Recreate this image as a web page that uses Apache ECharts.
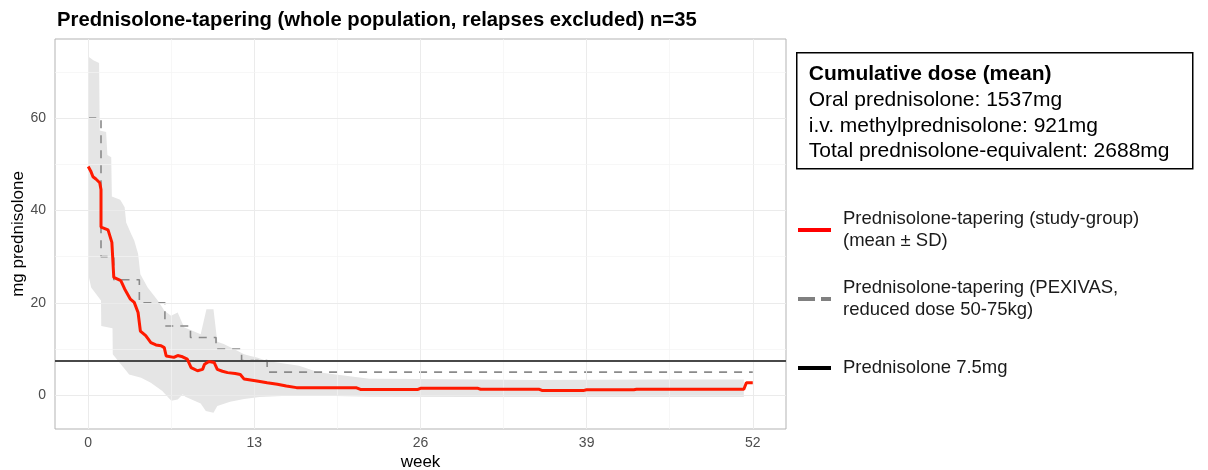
<!DOCTYPE html>
<html>
<head>
<meta charset="utf-8">
<script src="https://cdn.jsdelivr.net/npm/echarts@6/dist/echarts.min.js"></script>
<style>
  html, body { margin: 0; padding: 0; background: #fff; }
  #grafico { width: 1208px; height: 470px; }
</style>
</head>
<body>
<div id="grafico"></div>
<script>
// axis ticks / gridlines
var xTicks = [0, 13, 26, 39, 52];
var xMinor = [6.5, 19.5, 32.5, 45.5];
var yTicks = [0, 20, 40, 60];
var yMinor = [10, 30, 50, 70];

// study group mean (weeks, mg)
var meanWeeks = [0, 0.2, 0.37, 0.6, 0.9, 1.0, 1.0, 1.55, 1.85, 2.0, 2.55, 2.85, 3.3, 3.6, 3.9, 4.08, 4.5, 4.9, 5.3, 5.7, 5.95, 6.1,
  6.7, 7.0, 7.3, 7.75, 8.05, 8.55, 8.95, 9.1, 9.45, 9.85, 10.1, 10.5, 10.9, 11.5, 11.9, 12.2, 13.2, 14.0, 14.8, 15.5, 16.3,
  21.0, 21.3, 25.8, 26.0, 30.5, 30.7, 35.3, 35.5, 38.8, 39.0, 42.7, 42.9, 51.3, 51.5, 52.0];
var meanVals = [49.5, 48.5, 47.3, 46.8, 46.0, 44.5, 36.4, 35.8, 33.1, 25.5, 24.8, 23.0, 20.8, 20.1, 17.9, 13.9, 12.9, 11.4, 10.9, 10.7, 10.3, 8.5,
  8.2, 8.6, 8.4, 7.8, 6.0, 5.3, 5.6, 6.7, 7.3, 7.1, 5.6, 5.2, 4.9, 4.7, 4.5, 3.5, 3.1, 2.7, 2.4, 2.0, 1.65,
  1.6, 1.25, 1.25, 1.5, 1.5, 1.3, 1.3, 1.05, 1.05, 1.2, 1.2, 1.3, 1.3, 2.7, 2.7];

// SD band edges
var upperWeeks = [0, 0.4, 0.85, 0.9, 1.4, 1.5, 1.8, 1.85, 2.5, 2.85, 2.97, 3.36, 3.6, 3.9, 4.08, 4.65, 5.44, 5.96, 6.48, 7.0, 7.5,
  8.8, 9.25, 9.8, 10.1, 10.6, 11.4, 12.2, 12.7, 13.2, 14.0, 14.8, 16.5, 18, 22, 26, 35, 45, 51.3];
var upperVals = [73.3, 72.5, 71.9, 57.3, 57.0, 52.0, 51.5, 43.0, 42.3, 40.7, 37.4, 34.9, 33.5, 30.6, 26.2, 23.3, 20.5, 18.3, 17.2, 17.9, 14.7,
  13.2, 18.6, 18.6, 11.6, 11.1, 10.0, 8.9, 8.5, 8.2, 7.4, 7.1, 6.4, 5.0, 3.6, 3.5, 3.3, 3.4, 3.4];
var lowerWeeks = [0, 0.23, 1.0, 1.02, 1.9, 1.92, 2.97, 3.2, 4.14, 4.9, 5.8, 6.5, 7.0, 7.4, 7.6, 8.8, 9.2, 9.8, 10.1, 11.1, 12.2,
  13.4, 16.5, 22, 30, 40, 51.3];
var lowerVals = [26.2, 23.3, 20.5, 15.0, 14.5, 8.9, 5.3, 4.5, 3.8, 2.7, 0.9, -1.2, -0.9, 0.2, -0.3, -1.8, -3.4, -3.8, -2.3, -1.4, -0.8,
  -0.4, 0.0, -0.3, -0.4, -0.4, -0.4];

// PEXIVAS reduced dose schedule
var pexWeeks = [0, 1, 2, 4, 6, 8, 10, 12, 14, 52];
var pexVals = [60, 30, 25, 20, 15, 12.5, 10, 7.5, 5, 5];

var refDose = 7.5;

var font = "'Liberation Sans', Arial, sans-serif";

function pairs(xs, ys) {
  return xs.map(function (x, i) { return [x, ys[i]]; });
}

var gridLines = [];
xTicks.forEach(function (v) { gridLines.push({ xAxis: v, lineStyle: { color: '#ebebeb', width: 1, type: 'solid' } }); });
xMinor.forEach(function (v) { gridLines.push({ xAxis: v, lineStyle: { color: '#f4f4f4', width: 0.7, type: 'solid' } }); });
yTicks.forEach(function (v) { gridLines.push({ yAxis: v, lineStyle: { color: '#ebebeb', width: 1, type: 'solid' } }); });
yMinor.forEach(function (v) { gridLines.push({ yAxis: v, lineStyle: { color: '#f4f4f4', width: 0.7, type: 'solid' } }); });

var names = {
  study: 'Prednisolone-tapering (study-group)\n(mean \u00b1 SD)',
  pex: 'Prednisolone-tapering (PEXIVAS,\nreduced dose 50-75kg)',
  ref: 'Prednisolone 7.5mg'
};

function legendFor(key, top, lineStyle) {
  return {
    data: [key],
    orient: 'vertical',
    left: 796,
    top: top,
    padding: 0,
    itemWidth: 33,
    itemHeight: 14,
    selectedMode: false,
    lineStyle: lineStyle,
    itemStyle: { opacity: 0 },
    formatter: function (n) { return names[n]; },
    textStyle: { fontFamily: font, fontSize: 18.5, lineHeight: 22, color: '#1a1a1a', padding: [0, 0, 0, 7] }
  };
}

var chartDom = document.getElementById('grafico');
var myChart = echarts.init(chartDom);
var option = {
  animation: false,
  backgroundColor: '#fff',
  textStyle: { fontFamily: font },
  title: {
    text: 'Prednisolone-tapering (whole population, relapses excluded) n=35',
    left: 52,
    top: 5,
    textStyle: { fontFamily: font, fontSize: 20.25, fontWeight: 'bold', color: '#000' }
  },
  legend: [
    legendFor('study', 208, { color: '#ff0000', width: 4, type: 'solid' }),
    legendFor('pex', 277, { color: '#808080', width: 4, type: [17, 6] }),
    legendFor('ref', 357, { color: '#000', width: 4, type: 'solid' })
  ],
  grid: {
    left: 55, top: 39, width: 731, height: 390,
    outerBoundsMode: 'none',
    show: true, borderColor: '#b3b3b3', borderWidth: 1, backgroundColor: 'transparent'
  },
  xAxis: {
    type: 'value', min: -2.6, max: 54.6,
    name: 'week', nameLocation: 'middle', nameGap: 25, nameMoveOverlap: false,
    nameTextStyle: { fontFamily: font, fontSize: 17, color: '#000', verticalAlign: 'top' },
    axisLine: { show: false },
    axisTick: { show: true, customValues: xTicks, length: 3, lineStyle: { color: '#b3b3b3' } },
    axisLabel: { customValues: xTicks, color: '#4d4d4d', fontSize: 14, margin: 7, fontFamily: font },
    splitLine: { show: false }
  },
  yAxis: {
    type: 'value', min: -7.3, max: 77.1,
    name: 'mg prednisolone', nameLocation: 'middle', nameGap: 28, nameRotate: 90, nameMoveOverlap: false,
    nameTextStyle: { fontFamily: font, fontSize: 17, color: '#000' },
    axisLine: { show: false },
    axisTick: { show: true, customValues: yTicks, length: 3, lineStyle: { color: '#b3b3b3' } },
    axisLabel: { customValues: yTicks, color: '#4d4d4d', fontSize: 14, margin: 9, fontFamily: font },
    splitLine: { show: false }
  },
  graphic: [{
    type: 'group',
    left: 796, top: 52,
    children: [{
      type: 'rect',
      shape: { x: 0, y: 0, width: 396, height: 116 },
      style: { fill: '#fff', stroke: '#000', lineWidth: 1.5 }
    }, {
      type: 'text',
      x: 12, y: 9,
      style: {
        text: '{b|Cumulative dose (mean)}\n{n|Oral prednisolone: 1537mg}\n{n|i.v. methylprednisolone: 921mg}\n{n|Total prednisolone-equivalent: 2688mg}',
        rich: {
          b: { fontFamily: font, fontSize: 21, fontWeight: 'bold', lineHeight: 25.7, fill: '#000' },
          n: { fontFamily: font, fontSize: 21, lineHeight: 25.7, fill: '#000' }
        }
      }
    }]
  }],
  series: [
    {
      name: 'grid', type: 'line', data: [], silent: true, z: 1,
      markLine: { silent: true, symbol: ['none', 'none'], label: { show: false }, data: gridLines }
    },
    {
      name: 'band', type: 'custom', silent: true, z: 2,
      data: [[0, 0]],
      renderItem: function (params, api) {
        var pts = [];
        for (var i = 0; i < upperWeeks.length; i++) pts.push(api.coord([upperWeeks[i], upperVals[i]]));
        for (var j = lowerWeeks.length - 1; j >= 0; j--) pts.push(api.coord([lowerWeeks[j], lowerVals[j]]));
        return { type: 'polygon', shape: { points: pts }, style: { fill: '#e5e5e5' } };
      }
    },
    {
      name: 'pex', type: 'line', step: 'end', data: pairs(pexWeeks, pexVals), z: 3,
      symbol: 'none', color: '#808080',
      lineStyle: { color: '#8a8a8a', width: 1.6, type: [8, 7] }
    },
    {
      name: 'ref', type: 'line', data: [], z: 4, color: '#000', symbol: 'none',
      lineStyle: { color: '#000', width: 2 },
      markLine: {
        silent: true, symbol: ['none', 'none'], label: { show: false },
        lineStyle: { color: '#484848', width: 2, type: 'solid' },
        data: [{ yAxis: refDose }]
      }
    },
    {
      name: 'study', type: 'line', data: pairs(meanWeeks, meanVals), z: 5,
      symbol: 'none', color: '#ff0000',
      lineStyle: { color: '#ff1a00', width: 3 }
    }
  ]
};

option && myChart.setOption(option);
</script>
</body>
</html>
